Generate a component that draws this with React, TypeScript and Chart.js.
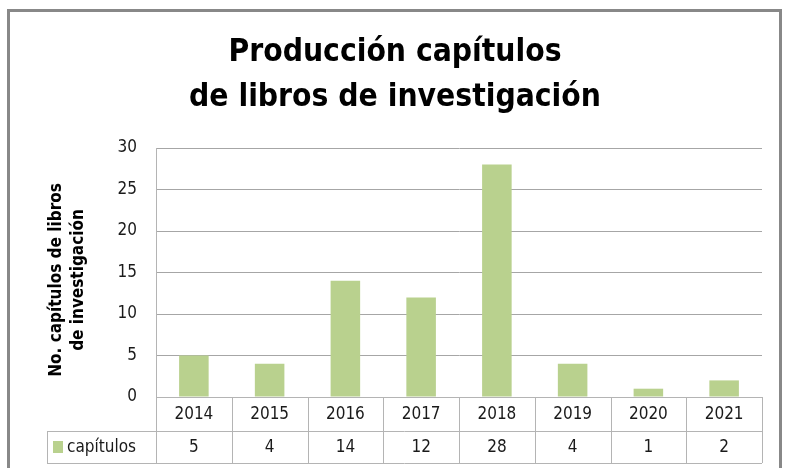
import React, { useEffect, useRef } from "react";
import { Chart, registerables } from "chart.js";

Chart.register(...registerables);

const years = ["2014", "2015", "2016", "2017", "2018", "2019", "2020", "2021"];
const capitulos = [5, 4, 14, 12, 28, 4, 1, 2];
const seriesLabel = "capítulos";
const titleLines = ["Producción capítulos", "de libros de investigación"];
const yTitleLines = ["No. capítulos de libros", "de investigación"];
const yTicks = [0, 5, 10, 15, 20, 25, 30];

const FONT = "'Liberation Sans Narrow', 'DejaVu Sans Condensed', 'Noto Sans', sans-serif";
const BAR = "#b9d18e";
const GRID = "#a6a6a6";
const TABLE = "#b4b4b4";

const tablePlugin = {
  id: "tablePlugin",
  afterDraw(chart: any) {
    const ctx = chart.ctx as CanvasRenderingContext2D;
    const area = chart.chartArea;
    const n = years.length;
    const cw = (area.right - area.left) / n;
    const row1Top = area.bottom;
    const row1Bot = row1Top + 34;
    const row2Bot = row1Bot + 32;
    const tableLeft = 47;
    ctx.save();
    ctx.strokeStyle = TABLE;
    ctx.lineWidth = 1;
    const hl = (x1: number, x2: number, y: number) => {
      ctx.beginPath();
      ctx.moveTo(x1, Math.round(y) + 0.5);
      ctx.lineTo(x2, Math.round(y) + 0.5);
      ctx.stroke();
    };
    const vl = (x: number, y1: number, y2: number) => {
      ctx.beginPath();
      ctx.moveTo(Math.round(x) + 0.5, y1);
      ctx.lineTo(Math.round(x) + 0.5, y2);
      ctx.stroke();
    };
    hl(area.left, area.right, row1Top);
    hl(tableLeft, area.right, row1Bot);
    hl(tableLeft, area.right, row2Bot);
    for (let i = 0; i <= n; i++) {
      vl(area.left + i * cw, row1Top, row2Bot);
    }
    vl(tableLeft, row1Bot, row2Bot);

    ctx.fillStyle = "#1a1a1a";
    ctx.font = `17px ${FONT}`;
    ctx.textAlign = "center";
    ctx.textBaseline = "middle";
    const xs = chart.scales.x;
    for (let i = 0; i < n; i++) {
      const cx = xs.getPixelForValue(i);
      ctx.fillText(years[i], cx, (row1Top + row1Bot) / 2 + 1);
      ctx.fillText(String(capitulos[i]), cx, (row1Bot + row2Bot) / 2 + 1);
    }
    ctx.fillStyle = BAR;
    ctx.fillRect(53, row1Bot + 10, 10, 12);
    ctx.fillStyle = "#1a1a1a";
    ctx.textAlign = "left";
    ctx.fillText(seriesLabel, 67, (row1Bot + row2Bot) / 2 + 1);

    ctx.textAlign = "center";
    ctx.textBaseline = "alphabetic";
    ctx.font = `bold 31.5px ${FONT}`;
    ctx.fillStyle = "#000";
    ctx.fillText(titleLines[0], 395, 61);
    ctx.fillText(titleLines[1], 395, 106);

    ctx.save();
    ctx.translate(0, 280);
    ctx.rotate(-Math.PI / 2);
    ctx.font = `bold 17px ${FONT}`;
    ctx.textBaseline = "middle";
    ctx.fillText(yTitleLines[0], 0, 57);
    ctx.fillText(yTitleLines[1], 0, 79);
    ctx.restore();

    ctx.strokeStyle = "#888888";
    ctx.lineWidth = 3;
    ctx.strokeRect(8.5, 10.5, 772, 500);
    ctx.restore();
  },
};

export default function App() {
  const ref = useRef<HTMLCanvasElement | null>(null);
  useEffect(() => {
    if (!ref.current) return;
    const chart = new Chart(ref.current, {
      type: "bar",
      data: {
        labels: years,
        datasets: [
          {
            label: seriesLabel,
            data: capitulos,
            backgroundColor: BAR,
            borderWidth: 0,
            barPercentage: 0.39,
            categoryPercentage: 1,
          },
        ],
      },
      options: {
        responsive: false,
        animation: false,
        events: [],
        layout: { padding: { top: 148, bottom: 71, left: 8, right: 25 } },
        plugins: {
          legend: { display: false },
          title: { display: false },
          tooltip: { enabled: false },
        },
        scales: {
          x: { display: false },
          y: {
            min: 0,
            max: 30,
            afterBuildTicks: (s: any) => {
              s.ticks = yTicks.map((v) => ({ value: v }));
            },
            afterFit: (s: any) => {
              s.width = 148;
            },
            grid: { color: GRID, drawTicks: false, lineWidth: 1 },
            border: { display: true, color: TABLE },
            ticks: {
              padding: 19,
              color: "#1a1a1a",
              font: { family: FONT, size: 17 },
            },
          },
        },
      },
      plugins: [tablePlugin],
    });
    return () => chart.destroy();
  }, []);
  return (
    <div style={{ position: "fixed", left: 0, top: 0, width: 787, height: 468, background: "#fff" }}>
      <canvas ref={ref} width={787} height={468} style={{ width: 787, height: 468 }} />
    </div>
  );
}
